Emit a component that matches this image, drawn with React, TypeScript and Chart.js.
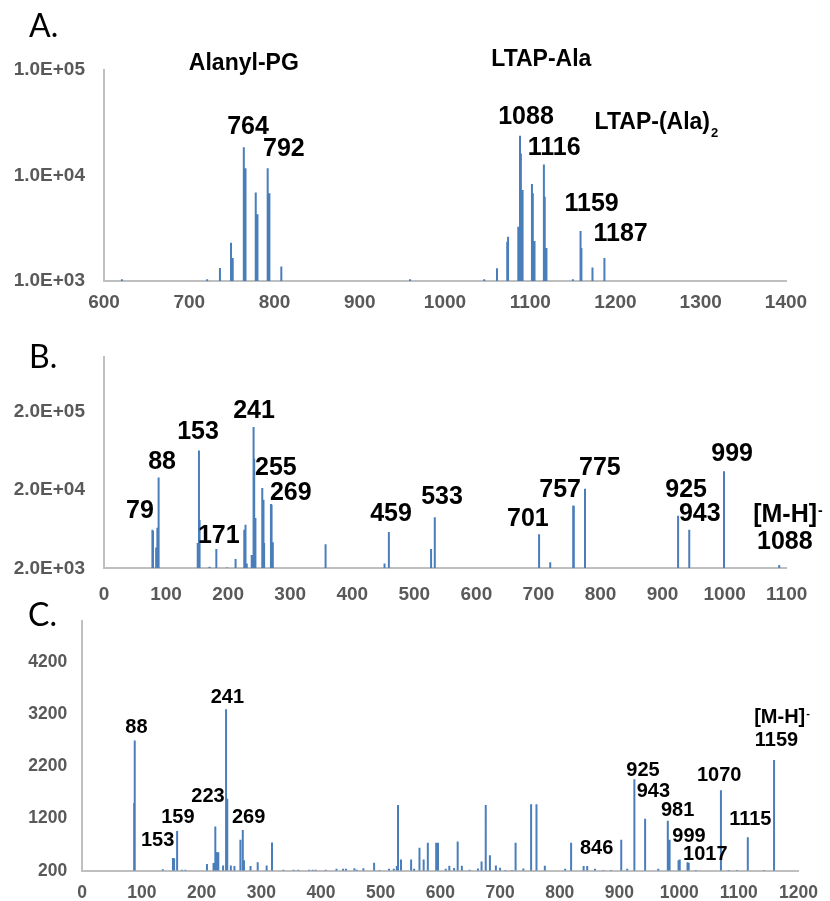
import React, { useEffect, useRef } from "react";
import { Chart, registerables } from "chart.js";

Chart.register(...registerables);

const FONT = '"Liberation Sans", Arial, Helvetica, sans-serif';
const BLUE = "#4a7ebb";
const AXIS = "#bfbfbf";
const TICK = "#595959";

// ---------------- Panel A (log intensity, m/z 600-1400) ----------------
const mzA = [621, 721, 736, 749, 751, 764, 766, 778, 780, 792, 794, 808, 959, 1046, 1061, 1073, 1074, 1086, 1088, 1089, 1091, 1102, 1103, 1105, 1116, 1117, 1119, 1150, 1159, 1160, 1173, 1187];
const intA = [1040, 1040, 1330, 2300, 1650, 18500, 11700, 6900, 4300, 11700, 6800, 1370, 1040, 1040, 1320, 2350, 2630, 3270, 23800, 16200, 7300, 8300, 6780, 2400, 12700, 6300, 2060, 1040, 2980, 2060, 1340, 1650];
const yTicksA = [1000, 10000, 100000];
const xRangeA = [600, 1400];
const yRangeA = [1000, 100000];
const numLabelsA = ["764", "792", "1088", "1116", "1159", "1187"];
const numLabelsAx = [769, 811, 1095, 1128, 1172, 1206];
const numLabelsAy = [28800, 17800, 35800, 18200, 5370, 2790];
const nameLabelsA = ["Alanyl-PG", "LTAP-Ala", "LTAP-(Ala)_2"];
const nameLabelsAx = [764, 1113, 1248];
const nameLabelsAy = [116000, 124000, 31500];

// ---------------- Panel B (log intensity, m/z 0-1100) ----------------
const mzB = [78, 79, 84, 86, 88, 151, 153, 154, 170, 181, 198, 212, 226, 228, 230, 238, 241, 242, 244, 255, 257, 258, 269, 270, 272, 357, 452, 459, 527, 533, 701, 719, 756, 757, 775, 925, 943, 999, 1088];
const intB = [6200, 6000, 3700, 6600, 29000, 4200, 63800, 8300, 2100, 3530, 2050, 2630, 6200, 7200, 2300, 2950, 128000, 50500, 8800, 21200, 15000, 4200, 13300, 13000, 4300, 4060, 2300, 5800, 3530, 9000, 5460, 2390, 12700, 12500, 20800, 9400, 6200, 34600, 2200];
const yTicksB = [2000, 20000, 200000];
const xRangeB = [0, 1100];
const yRangeB = [2000, 1000000];
const labelsB = ["79", "88", "153", "171", "241", "255", "269", "459", "533", "701", "757", "775", "925", "943", "999", "[M-H]^-", "1088"];
const labelsBx = [58, 93.5, 151.5, 185, 241.7, 277, 301, 462.5, 544.6, 683, 735, 799, 938, 960, 1012, 1102, 1097];
const labelsBy = [10800, 45600, 110000, 5170, 204000, 38200, 18300, 9880, 16300, 8530, 20000, 38200, 20000, 9880, 57700, 9590, 4330];

// ---------------- Panel C (linear intensity, m/z 0-1200) ----------------
const mzC = [87, 88, 135, 152, 154, 159, 167, 173, 209, 220, 223, 225, 228, 236, 241, 243, 249, 255, 265, 269, 271, 282, 294, 309, 318, 337, 354, 362, 380, 386, 391, 408, 426, 437, 442, 456, 460, 471, 489, 498, 514, 522, 527, 529, 534, 551, 556, 565, 572, 579, 593, 596, 609, 615, 623, 629, 636, 649, 663, 669, 676, 683, 693, 700, 709, 720, 726, 739, 752, 761, 775, 809, 819, 840, 846, 859, 873, 886, 903, 913, 925, 943, 965, 981, 984, 999, 1001, 1014, 1016, 1028, 1070, 1083, 1097, 1115, 1142, 1159];
const intC = [1500, 2700, 230, 446, 440, 964, 220, 220, 327, 350, 1046, 560, 552, 300, 3297, 1581, 300, 290, 794, 983, 400, 290, 364, 300, 743, 220, 220, 220, 220, 220, 220, 220, 238, 238, 238, 245, 220, 245, 351, 215, 238, 238, 288, 1461, 414, 414, 238, 641, 414, 736, 736, 736, 238, 295, 250, 761, 295, 220, 244, 377, 1461, 496, 301, 257, 215, 215, 736, 244, 1474, 1474, 295, 238, 736, 288, 288, 238, 215, 215, 793, 238, 1953, 1196, 238, 1159, 793, 402, 414, 364, 351, 215, 1745, 215, 215, 843, 215, 2325];
const yTicksC = [200, 1200, 2200, 3200, 4200];
const xRangeC = [0, 1200];
const yRangeC = [200, 5000];
const labelsC = ["88", "153", "159", "223", "241", "269", "846", "925", "943", "981", "999", "1017", "1070", "1115", "[M-H]^-", "1159"];
const labelsCx = [90.8, 126.4, 160.3, 210.8, 243.1, 278.7, 861.7, 939.5, 956.9, 997.5, 1016.6, 1043.9, 1067.1, 1119.2, 1172.4, 1163.1];
const labelsCy = [2957, 771, 1216, 1623, 3524, 1216, 630, 2115, 1727, 1349, 866, 507, 2020, 1178, 3146, 2701];

const panelLetters = ["A.", "B.", "C."];

function sciLabel(v: number): string {
  const e = Math.floor(Math.log10(v) + 1e-9);
  const m = v / Math.pow(10, e);
  return m.toFixed(1) + "E+" + String(e).padStart(2, "0");
}

type Group = { texts: string[]; xs: number[]; ys: number[]; size: number };

const labelPlugin = {
  id: "peakLabels",
  afterDraw(chart: any, _args: any, opts: any) {
    const ctx = chart.ctx;
    const xs = chart.scales.x;
    const ys = chart.scales.y;
    ctx.save();
    ctx.fillStyle = "#000";
    ctx.textBaseline = "middle";
    ctx.textAlign = "left";
    (opts.groups as Group[]).forEach((g) => {
      g.texts.forEach((t, i) => {
        const px = xs.getPixelForValue(g.xs[i]);
        const py = ys.getPixelForValue(g.ys[i]);
        let main = t;
        let sub = "";
        let sup = "";
        if (t.includes("_")) [main, sub] = t.split("_");
        if (t.includes("^")) [main, sup] = t.split("^");
        const bigFont = `bold ${g.size}px ${FONT}`;
        const smallSize = Math.round(g.size * 0.56);
        const smallFont = `bold ${smallSize}px ${FONT}`;
        ctx.font = bigFont;
        const wMain = ctx.measureText(main).width;
        ctx.font = smallFont;
        const extra = sub || sup;
        const wSmall = extra ? ctx.measureText(extra).width + 1 : 0;
        const left = px - (wMain + wSmall) / 2;
        ctx.font = bigFont;
        ctx.fillText(main, left, py);
        if (sub) {
          ctx.font = smallFont;
          ctx.fillText(sub, left + wMain + 1, py + g.size * 0.46);
        }
        if (sup) {
          ctx.font = smallFont;
          ctx.fillText(sup, left + wMain + 1, py - g.size * 0.15);
        }
      });
    });
    ctx.restore();
  },
};

type Spec = {
  mz: number[];
  vals: number[];
  log: boolean;
  xRange: number[];
  yRange: number[];
  yTicks: number[];
  groups: Group[];
  canvasTop: number;
  canvasH: number;
  padTop: number;
  padRight: number;
  yWidth: number;
  xHeight: number;
  xPad: number;
  yPad: number;
  tickSize: number;
};

const PANELS: Spec[] = [
  {
    mz: mzA, vals: intA, log: true, xRange: xRangeA, yRange: yRangeA, yTicks: yTicksA,
    groups: [
      { texts: numLabelsA, xs: numLabelsAx, ys: numLabelsAy, size: 25 },
      { texts: nameLabelsA, xs: nameLabelsAx, ys: nameLabelsAy, size: 23 },
    ],
    canvasTop: 0, canvasH: 320, padTop: 70, padRight: 44, yWidth: 104, xHeight: 39, xPad: 10, yPad: 19, tickSize: 19,
  },
  {
    mz: mzB, vals: intB, log: true, xRange: xRangeB, yRange: yRangeB, yTicks: yTicksB,
    groups: [{ texts: labelsB, xs: labelsBx, ys: labelsBy, size: 25 }],
    canvasTop: 310, canvasH: 300, padTop: 47, padRight: 43.3, yWidth: 104, xHeight: 41.7, xPad: 15, yPad: 19, tickSize: 19,
  },
  {
    mz: mzC, vals: intC, log: false, xRange: xRangeC, yRange: yRangeC, yTicks: yTicksC,
    groups: [{ texts: labelsC, xs: labelsCx, ys: labelsCy, size: 20 }],
    canvasTop: 595, canvasH: 306, padTop: 21, padRight: 23, yWidth: 82.2, xHeight: 30.3, xPad: 12, yPad: 15, tickSize: 17.5,
  },
];

function buildChart(canvas: HTMLCanvasElement, s: Spec) {
  const base = s.yRange[0];
  const points: { x: number; y: number | null }[] = [];
  s.mz.forEach((m, i) => {
    points.push({ x: m, y: base }, { x: m, y: s.vals[i] }, { x: m, y: base }, { x: m, y: null });
  });
  const tickFont = { family: FONT, size: s.tickSize, weight: "bold" as const };
  return new Chart(canvas, {
    type: "line",
    data: {
      datasets: [
        {
          data: points as any,
          borderColor: BLUE,
          borderWidth: 2,
          pointRadius: 0,
          tension: 0,
          spanGaps: false,
          fill: false,
        },
      ],
    },
    options: {
      animation: false,
      responsive: false,
      devicePixelRatio: 1,
      events: [],
      layout: { padding: { top: s.padTop, right: s.padRight, left: 0, bottom: 0 } },
      plugins: {
        legend: { display: false },
        tooltip: { enabled: false },
        peakLabels: { groups: s.groups },
      } as any,
      scales: {
        x: {
          type: "linear",
          min: s.xRange[0],
          max: s.xRange[1],
          grid: { display: false, drawTicks: false },
          border: { display: true, color: AXIS, width: 2 },
          ticks: {
            stepSize: 100,
            autoSkip: false,
            maxRotation: 0,
            padding: s.xPad,
            color: TICK,
            font: tickFont,
            callback: (v: any) => String(v),
          },
          afterFit: (sc: any) => {
            sc.height = s.xHeight;
          },
        },
        y: {
          type: s.log ? "logarithmic" : "linear",
          min: s.yRange[0],
          max: s.yRange[1],
          grid: { display: false, drawTicks: false },
          border: { display: true, color: AXIS, width: 2 },
          ticks: {
            padding: s.yPad,
            color: TICK,
            font: tickFont,
            autoSkip: false,
            callback: (v: any) => (s.log ? sciLabel(Number(v)) : String(v)),
          },
          afterBuildTicks: (sc: any) => {
            sc.ticks = s.yTicks.map((v) => ({ value: v }));
          },
          afterFit: (sc: any) => {
            sc.width = s.yWidth;
          },
        } as any,
      },
    },
    plugins: [labelPlugin as any],
  });
}

const letterPos = [
  { left: 29, top: 9 },
  { left: 29, top: 340 },
  { left: 28, top: 598 },
];

export default function App() {
  const r0 = useRef<HTMLCanvasElement>(null);
  const r1 = useRef<HTMLCanvasElement>(null);
  const r2 = useRef<HTMLCanvasElement>(null);
  const refs = [r0, r1, r2];

  useEffect(() => {
    document.body.style.margin = "0";
    const charts = PANELS.map((p, i) => buildChart(refs[i].current as HTMLCanvasElement, p));
    return () => charts.forEach((c) => c.destroy());
  }, []);

  return (
    <div style={{ position: "relative", width: 830, height: 901, background: "#fff", overflow: "hidden" }}>
      {PANELS.map((p, i) => (
        <canvas
          key={i}
          ref={refs[i]}
          width={830}
          height={p.canvasH}
          style={{ position: "absolute", left: 0, top: p.canvasTop, width: 830, height: p.canvasH }}
        />
      ))}
      {panelLetters.map((t, i) => (
        <div
          key={t}
          style={{
            position: "absolute",
            left: letterPos[i].left,
            top: letterPos[i].top,
            fontFamily: "Lato, 'Open Sans', sans-serif",
            fontSize: 32,
            lineHeight: "32px",
            color: "#000",
            whiteSpace: "nowrap",
          }}
        >
          {t}
        </div>
      ))}
    </div>
  );
}
